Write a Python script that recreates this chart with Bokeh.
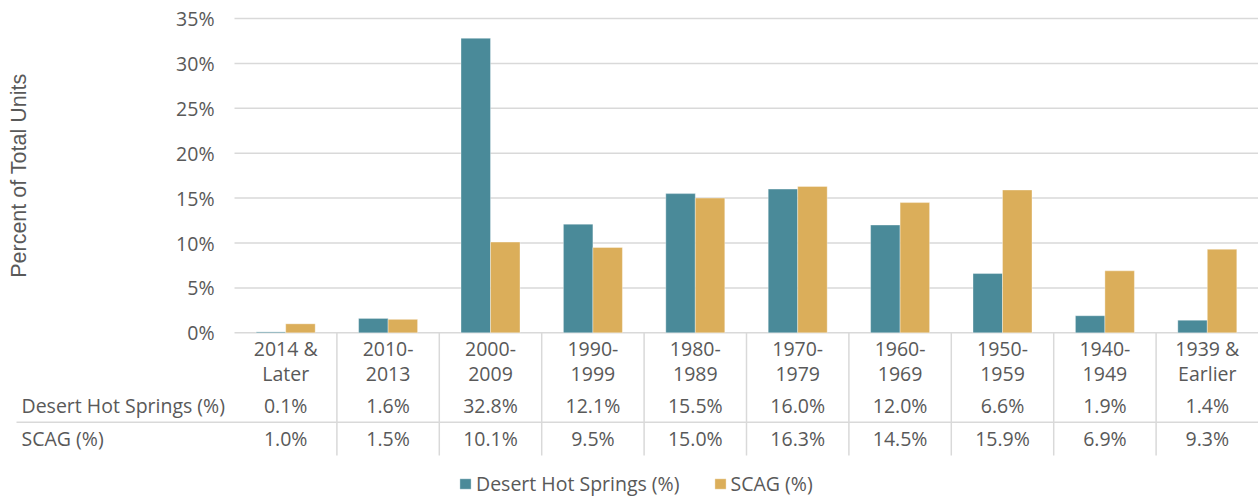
import math
from bokeh.plotting import figure
from bokeh.models import Range1d, ColumnDataSource, Legend, LegendItem
from bokeh.transform import dodge
from bokeh.embed import file_html
from bokeh.resources import INLINE
from bokeh.core.properties import value

# ---------------- data ----------------
categories = ["2014 &\nLater", "2010-\n2013", "2000-\n2009", "1990-\n1999", "1980-\n1989",
              "1970-\n1979", "1960-\n1969", "1950-\n1959", "1940-\n1949", "1939 &\nEarlier"]
dhs = [0.1, 1.6, 32.8, 12.1, 15.5, 16.0, 12.0, 6.6, 1.9, 1.4]
scag = [1.0, 1.5, 10.1, 9.5, 15.0, 16.3, 14.5, 15.9, 6.9, 9.3]
series_names = ["Desert Hot Springs (%)", "SCAG (%)"]
y_ticks = [0, 5, 10, 15, 20, 25, 30, 35]
y_title = "Percent of Total Units"

# ---------------- styles / layout (pixels) ----------------
TEAL = "#4A8A99"
GOLD = "#DBAE5A"
TXT = "#595959"
GRID = "#D9D9D9"
FONT = "Open Sans"
FS = "19.5px"

W, H = 1258, 497
n = len(categories)
PLOT_L, PLOT_R = 234.0, 1258.0          # chart area, left/right
Y_TOP, Y_ZERO = 18.0, 332.3              # pixel rows of top tick and of 0
CAT_W = (PLOT_R - PLOT_L) / n
PX_PER_PCT = (Y_ZERO - Y_TOP) / y_ticks[-1]
BAR_W = 0.288


def vx(px):
    """pixel column -> category units"""
    return (px - PLOT_L) / CAT_W


p = figure(width=W, height=H, output_backend="svg", toolbar_location=None,
           x_range=Range1d(vx(0), vx(W)),
           y_range=Range1d(-(H - Y_ZERO) / PX_PER_PCT, y_ticks[-1] + Y_TOP / PX_PER_PCT),
           x_axis_location=None, y_axis_location=None,
           min_border_left=0, min_border_right=0, min_border_top=0, min_border_bottom=0)
p.extra_y_ranges = {"px": Range1d(start=H, end=0)}
p.outline_line_color = None
p.grid.visible = False

src = ColumnDataSource(dict(
    x=[i + 0.5 for i in range(n)],
    dhs=dhs,
    scag=scag,
    line1=[c.split("\n")[0] for c in categories],
    line2=[c.split("\n")[1] for c in categories],
    dhs_txt=[f"{v:.1f}%" for v in dhs],
    scag_txt=[f"{v:.1f}%" for v in scag],
))

# gridlines + y tick labels (through the percent scale)
p.segment(x0=[0] * len(y_ticks), y0=y_ticks, x1=[n] * len(y_ticks), y1=y_ticks,
          line_color=GRID, line_width=1.5)
p.text(x=[vx(214)] * len(y_ticks), y=y_ticks, text=[f"{t}%" for t in y_ticks],
       text_align="right", text_baseline="middle", text_font=value(FONT),
       text_font_size=FS, text_color=TXT)
p.text(x=[vx(18)], y=[y_ticks[-1] / 2], text=[y_title], angle=math.pi / 2,
       text_align="center", text_baseline="middle", text_font=value("Liberation Sans"),
       text_font_size="21.5px", text_color=TXT)

# bars
r1 = p.vbar(x=dodge("x", -BAR_W / 2), top="dhs", width=BAR_W, source=src,
            fill_color=TEAL, line_color="white", line_alpha=0.35, line_width=1)
r2 = p.vbar(x=dodge("x", BAR_W / 2), top="scag", width=BAR_W, source=src,
            fill_color=GOLD, line_color="white", line_alpha=0.35, line_width=1)

# data table (pixel-row scale "px")
seps = list(range(1, n))
p.segment(x0=seps, y0=[Y_ZERO] * len(seps), x1=seps, y1=[455] * len(seps),
          line_color=GRID, line_width=1.5, y_range_name="px")
p.segment(x0=[vx(16)], y0=[421.7], x1=[n], y1=[421.7], line_color=GRID, line_width=1.5,
          y_range_name="px")

common = dict(source=src, text_align="center", text_baseline="middle",
              text_font=value(FONT), text_font_size=FS, text_color=TXT, y_range_name="px")
p.text(x="x", y=348, text="line1", **common)
p.text(x="x", y=373, text="line2", **common)
p.text(x="x", y=405, text="dhs_txt", **common)
p.text(x="x", y=437.5, text="scag_txt", **common)
p.text(x=[vx(21), vx(21)], y=[405, 437.5], text=series_names, text_align="left",
       text_baseline="middle", text_font=value(FONT), text_font_size=FS,
       text_color=TXT, y_range_name="px")

legend = Legend(items=[LegendItem(label=series_names[0], renderers=[r1]),
                       LegendItem(label=series_names[1], renderers=[r2])],
                orientation="horizontal", location=(458, 0),
                glyph_width=14, glyph_height=13, label_standoff=4, spacing=33,
                padding=0, margin=0, border_line_color=None, background_fill_alpha=0,
                label_text_font=FONT, label_text_font_size=FS, label_text_color=TXT)
p.add_layout(legend)

open("out.html", "w").write(file_html(p, INLINE))
